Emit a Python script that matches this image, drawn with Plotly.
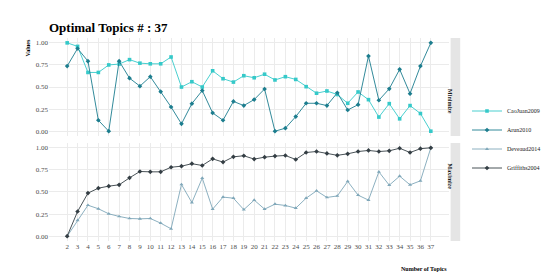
import plotly.graph_objects as go
from plotly.subplots import make_subplots

topics = list(range(2, 38))

caojuan2009 = [1.00, 0.96, 0.665, 0.665, 0.75, 0.76, 0.81, 0.77, 0.763, 0.763, 0.84, 0.50,
               0.56, 0.50, 0.684, 0.594, 0.556, 0.628, 0.605, 0.645, 0.58, 0.617, 0.586, 0.504,
               0.43, 0.455, 0.415, 0.316, 0.444, 0.357, 0.16, 0.312, 0.14, 0.29, 0.20, 0.0]
arun2010 = [0.737, 0.936, 0.793, 0.124, 0.0, 0.793, 0.60, 0.51, 0.617, 0.447, 0.274, 0.083,
            0.312, 0.46, 0.207, 0.124, 0.337, 0.29, 0.358, 0.478, 0.0, 0.034, 0.165, 0.316,
            0.316, 0.29, 0.435, 0.24, 0.30, 0.85, 0.35, 0.48, 0.70, 0.425, 0.737, 1.0]
deveaud2014 = [0.0, 0.18, 0.35, 0.31, 0.253, 0.223, 0.20, 0.196, 0.20, 0.147, 0.083, 0.585,
               0.38, 0.657, 0.306, 0.442, 0.43, 0.30, 0.408, 0.306, 0.362, 0.347, 0.317, 0.43,
               0.513, 0.438, 0.455, 0.62, 0.464, 0.408, 0.728, 0.577, 0.679, 0.581, 0.626, 1.0]
griffiths2004 = [0.0, 0.279, 0.487, 0.543, 0.566, 0.581, 0.66, 0.732, 0.728, 0.728, 0.78, 0.792,
                 0.82, 0.80, 0.875, 0.838, 0.898, 0.91, 0.872, 0.894, 0.906, 0.913, 0.868, 0.947,
                 0.958, 0.936, 0.915, 0.932, 0.958, 0.97, 0.958, 0.966, 0.995, 0.947, 0.99, 1.0]

y_ticks = [0.0, 0.25, 0.5, 0.75, 1.0]
y_ticklabels = ["0.00", "0.25", "0.50", "0.75", "1.00"]
facets = ["Minimize", "Maximize"]

FONT = "Liberation Serif"

fig = make_subplots(rows=2, cols=1, shared_xaxes=True, vertical_spacing=0.034)

series = [
    ("CaoJuan2009", caojuan2009, "#35C9C9", "square", 1),
    ("Arun2010", arun2010, "#1C7D8E", "diamond", 1),
    ("Deveaud2014", deveaud2014, "#7FA7B9", "triangle-up", 2),
    ("Griffiths2004", griffiths2004, "#343E44", "diamond", 2),
]
for name, vals, color, sym, row in series:
    fig.add_trace(go.Scatter(
        x=topics, y=vals, name=name, mode="lines+markers",
        line=dict(color=color, width=0.9),
        marker=dict(color=color, symbol=sym, size=3.6),
    ), row=row, col=1)

axis_common = dict(showgrid=True, gridcolor="#EBEBEB", gridwidth=1, zeroline=False,
                   showline=False, ticks="", tickfont=dict(family=FONT, size=7, color="#4D4D4D"))
fig.update_xaxes(range=[0.25, 38.75], tickmode="array", tickvals=topics,
                 ticktext=[str(t) for t in topics], **axis_common)
fig.update_xaxes(showticklabels=False, row=1, col=1)
fig.update_yaxes(range=[-0.055, 1.055], tickmode="array", tickvals=y_ticks,
                 ticktext=y_ticklabels, **axis_common)

# facet strips
doms = [fig.layout.yaxis.domain, fig.layout.yaxis2.domain]
for lab, dom in zip(facets, doms):
    fig.add_shape(type="rect", xref="paper", yref="paper", x0=1.004, x1=1.028,
                  y0=dom[0], y1=dom[1], fillcolor="#E5E5E5", line=dict(width=0))
    fig.add_annotation(text="<b>%s</b>" % lab, xref="paper", yref="paper",
                       x=1.016, y=(dom[0] + dom[1]) / 2, textangle=90, showarrow=False,
                       font=dict(family=FONT, size=6, color="#1A1A1A"))

fig.add_annotation(text="<b>Values</b>", xref="paper", yref="paper", x=-0.055, y=1.0,
                   xanchor="center", yanchor="top", textangle=-90, showarrow=False,
                   font=dict(family=FONT, size=6, color="#000000"))
fig.add_annotation(text="<b>Number of Topics</b>", xref="paper", yref="paper", x=1.0, y=-0.115,
                   xanchor="right", yanchor="top", showarrow=False,
                   font=dict(family=FONT, size=6, color="#000000"))

fig.update_layout(
    width=550, height=275,
    margin=dict(l=41, r=78, t=30, b=42),
    paper_bgcolor="white", plot_bgcolor="white",
    title=dict(text="<b>Optimal Topics # : 37</b>", x=41 / 550, xanchor="left",
               y=1 - 19 / 275, yanchor="middle",
               font=dict(family=FONT, size=13, color="#000000")),
    font=dict(family=FONT),
    legend=dict(x=1.045, y=0.5, xanchor="left", yanchor="middle",
                font=dict(family=FONT, size=6, color="#1A1A1A"),
                itemwidth=30, tracegroupgap=0, bgcolor="rgba(0,0,0,0)"),
    showlegend=True,
)

fig.write_html("out.html")
